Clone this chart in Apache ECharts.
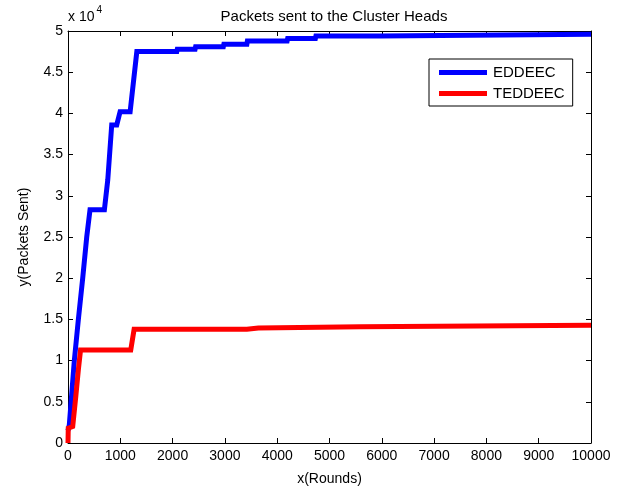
<!DOCTYPE html>
<html>
<head>
<meta charset="utf-8">
<script src="https://cdn.jsdelivr.net/npm/echarts@6/dist/echarts.min.js"></script>
<style>
  html, body { margin: 0; padding: 0; background: #fff; }
  #chart { width: 630px; height: 491px; }
</style>
</head>
<body>
<div id="chart"></div>
<script>
// Cumulative packets delivered to cluster heads, [round, packets]
const eddeecPoints = [
  [0, 1500], [25, 2200], [121, 10000], [198, 15000], [281, 20000],
  [358, 25000], [421, 28300], [696, 28300], [760, 31900], [836, 38600],
  [932, 38600], [996, 40200], [1188, 40200], [1316, 47500], [2080, 47500],
  [2090, 47800], [2430, 47800], [2440, 48100], [2970, 48100], [2980, 48400],
  [3420, 48400], [3430, 48800], [4190, 48800], [4200, 49100], [4730, 49100],
  [4740, 49400], [5980, 49400], [5990, 49600], [10000, 49600]
];
const teddeecPoints = [
  [0, 0], [5, 1800], [90, 2000], [100, 2200], [150, 5700], [200, 9000],
  [240, 11300], [1200, 11300], [1264, 13800], [3420, 13800], [3430, 13950],
  [3640, 13950], [3650, 14100], [5590, 14100], [5600, 14300], [10000, 14300]
];
const seriesNames = ['EDDEEC', 'TEDDEEC'];
const xTicks = { min: 0, max: 10000, step: 1000 };
const yTicks = { min: 0, max: 50000, step: 5000, scale: 10000 };

const FONT = "'Liberation Sans', Arial, Helvetica, sans-serif";
const chart = echarts.init(document.getElementById('chart'), null, { renderer: 'canvas' });

const axisLine = { show: true, onZero: false, lineStyle: { color: '#000', width: 1 } };
const tick = { show: true, inside: true, length: 5, lineStyle: { color: '#000', width: 1 } };

chart.setOption({
  animation: false,
  backgroundColor: '#fff',
  title: {
    text: 'Packets sent to the Cluster Heads',
    left: 329, top: 4, textAlign: 'center',
    textStyle: { fontFamily: FONT, fontSize: 15, fontWeight: 'normal', color: '#000' }
  },
  graphic: [{
    type: 'text', left: 68, top: 5,
    style: {
      text: '{b|x 10}{s|4}',
      rich: {
        b: { fontFamily: FONT, fontSize: 14, fill: '#000', verticalAlign: 'bottom', padding: [5, 0, 0, 0] },
        s: { fontFamily: FONT, fontSize: 10, fill: '#000', verticalAlign: 'top', padding: [0, 0, 9, 2] }
      }
    }
  }],
  legend: {
    orient: 'vertical',
    left: 429, top: 59,
    data: seriesNames,
    icon: 'rect',
    itemWidth: 48, itemHeight: 5, itemGap: 6,
    padding: [6, 8, 5, 10],
    borderColor: '#000', borderWidth: 1, borderRadius: 0,
    backgroundColor: '#fff',
    textStyle: { fontFamily: FONT, fontSize: 15, color: '#000', padding: [0, 0, 0, 1] }
  },
  grid: { left: 68, right: 39, top: 31, bottom: 48, containLabel: false },
  xAxis: [{
    type: 'value', min: xTicks.min, max: xTicks.max, interval: xTicks.step,
    name: 'x(Rounds)', nameLocation: 'middle', nameGap: 29,
    nameTextStyle: { fontFamily: FONT, fontSize: 14, color: '#000' },
    axisLine: axisLine, axisTick: tick, splitLine: { show: false },
    axisLabel: { fontFamily: FONT, fontSize: 14, color: '#000', margin: 6, formatter: v => String(v) }
  }, {
    type: 'value', position: 'top', min: xTicks.min, max: xTicks.max, interval: xTicks.step,
    axisLine: axisLine, axisTick: tick, splitLine: { show: false },
    axisLabel: { show: false }
  }],
  yAxis: [{
    type: 'value', min: yTicks.min, max: yTicks.max, interval: yTicks.step,
    name: 'y(Packets Sent)', nameLocation: 'middle', nameGap: 37, nameRotate: 90,
    nameTextStyle: { fontFamily: FONT, fontSize: 14, color: '#000' },
    axisLine: axisLine, axisTick: tick, splitLine: { show: false },
    axisLabel: {
      fontFamily: FONT, fontSize: 14, color: '#000', margin: 5,
      formatter: v => String(v / yTicks.scale)
    }
  }, {
    type: 'value', position: 'right', min: yTicks.min, max: yTicks.max, interval: yTicks.step,
    axisLine: axisLine, axisTick: tick, splitLine: { show: false },
    axisLabel: { show: false }
  }],
  series: [{
    name: seriesNames[0], type: 'line', data: eddeecPoints,
    showSymbol: false, symbol: 'none', color: '#0000ff',
    lineStyle: { color: '#0000ff', width: 5, join: 'miter' }
  }, {
    name: seriesNames[1], type: 'line', data: teddeecPoints,
    showSymbol: false, symbol: 'none', color: '#ff0000',
    lineStyle: { color: '#ff0000', width: 5, join: 'miter' }
  }]
});
</script>
</body>
</html>
